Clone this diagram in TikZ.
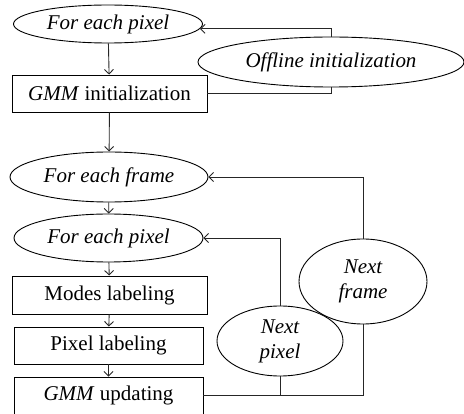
\documentclass[tikz,border=0pt]{standalone}
\usepackage{fontspec}
\setmainfont{Liberation Serif}
\usetikzlibrary{shapes.geometric,arrows.meta}
\tikzset{
  every picture/.style={line width=0.9pt},
  oval/.style={draw, ellipse, inner sep=0pt, font=\fontsize{21}{25}\selectfont\itshape, align=center},
  boxn/.style={draw, rectangle, inner sep=0pt, font=\fontsize{21}{25}\selectfont},
  arr/.style={-{Straight Barb[length=4.5pt,width=9pt]}, draw=black!85},
  ln/.style={draw=black!85}
}
\begin{document}
\begin{tikzpicture}[x=1pt,y=-1pt]
\useasboundingbox (0,0) rectangle (464,414);
\node[oval, minimum width=189pt, minimum height=38pt] (top) at (108,24) {For each pixel};
\node[oval, minimum width=266pt, minimum height=50pt] (off) at (331,62) {Offline initialization};
\node[boxn, minimum width=195pt, minimum height=37pt] (init) at (109.5,93.5) {\textit{GMM} initialization};
\node[oval, minimum width=198pt, minimum height=50pt] (frame) at (109,177) {For each frame};
\node[oval, minimum width=189pt, minimum height=48pt] (pix) at (108.5,238) {For each pixel};
\node[boxn, minimum width=195pt, minimum height=38pt] (modes) at (109.5,295) {Modes labeling};
\node[boxn, minimum width=189pt, minimum height=37pt] (plab) at (108.5,345.5) {Pixel labeling};
\node[boxn, minimum width=189pt, minimum height=37pt] (upd) at (108.5,395.5) {\textit{GMM} updating};
\node[oval, minimum width=128pt, minimum height=85pt] (nframe) at (363,281.5) {Next\\frame};
\node[oval, minimum width=126pt, minimum height=70pt] (npix) at (280,341) {Next\\pixel};
\draw[arr] (top) -- (init);
\draw[arr] (init) -- (frame);
\draw[arr] (frame) -- (pix);
\draw[arr] (pix) -- (modes);
\draw[arr] (modes) -- (plab);
\draw[arr] (plab) -- (upd);
\draw[arr] (off.north) |- (top.-3);
\draw[ln] (off.south) |- (init.east);
\draw[arr] (nframe.north) |- (frame.east);
\draw[arr] (npix.north) |- (pix.east);
\draw[ln] (upd.east) -| (nframe.south);
\draw[ln] (upd.east -| npix.south) -- (npix.south);
\end{tikzpicture}
\end{document}
